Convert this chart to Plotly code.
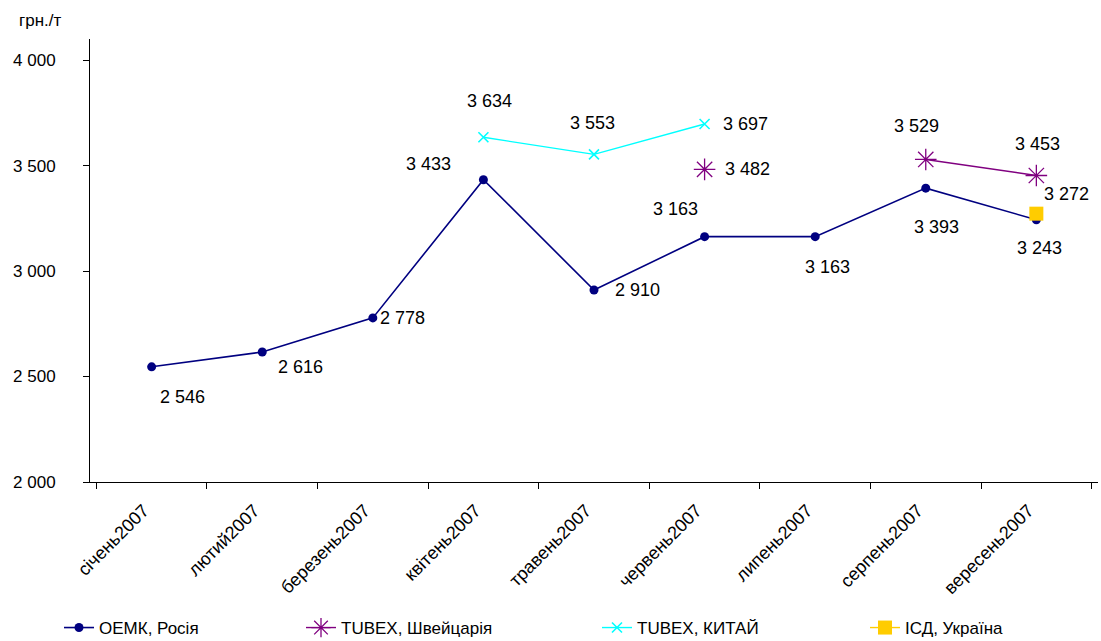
import plotly.graph_objects as go

categories = ["січень2007", "лютий2007", "березень2007", "квітень2007", "травень2007",
              "червень2007", "липень2007", "серпень2007", "вересень2007"]
oemk = [2546, 2616, 2778, 3433, 2910, 3163, 3163, 3393, 3243]
tubex_sw = [None, None, None, None, None, 3482, None, 3529, 3453]
tubex_cn = [None, None, None, 3634, 3553, 3697, None, None, None]
isd = [None, None, None, None, None, None, None, None, 3272]
y_ticks = [2000, 2500, 3000, 3500, 4000]

FONT = "Liberation Sans, Arial, sans-serif"

fig = go.Figure()
fig.add_trace(go.Scatter(x=categories, y=oemk, name="ОЕМК, Росія", mode="lines+markers",
                         line=dict(color="#000080", width=1.6),
                         marker=dict(symbol="circle", size=9, color="#000080"),
                         legend="legend", showlegend=True))
fig.add_trace(go.Scatter(x=categories, y=tubex_sw, name="TUBEX, Швейцарія", mode="lines+markers",
                         line=dict(color="#800080", width=1.4),
                         marker=dict(symbol="asterisk-open", size=18, color="#800080",
                                     line=dict(color="#800080", width=1.3)),
                         connectgaps=False, legend="legend2"))
fig.add_trace(go.Scatter(x=categories, y=tubex_cn, name="TUBEX, КИТАЙ", mode="lines+markers",
                         line=dict(color="#00FFFF", width=1.4),
                         marker=dict(symbol="x-thin-open", size=10, color="#00FFFF",
                                     line=dict(color="#00FFFF", width=1.6)),
                         connectgaps=False, legend="legend3"))
fig.add_trace(go.Scatter(x=categories, y=isd, name="ІСД, Україна", mode="lines+markers",
                         line=dict(color="#FFCC00", width=1.4),
                         marker=dict(symbol="square", size=14, color="#FFCC00"),
                         legend="legend4"))

# label pixel offsets (style): (dx, dy) per point
offs_oemk = [(31, -30), (38, -15), (30, 0), (-55, 16), (43, 0), (-29, 28), (12, -30), (11, -39), (3, -28)]
offs_sw = {5: (43, 0), 7: (-9, 33), 8: (1, 31)}
offs_cn = {3: (6, 36), 4: (-2, 31), 5: (41, 0)}
offs_isd = {8: (30, 20)}

def fmt(v):
    return f"{v:,}".replace(",", " ")

ann = []
def add_labels(vals, offs):
    for i, v in enumerate(vals):
        if v is None:
            continue
        dx, dy = offs[i]
        ann.append(dict(x=categories[i], y=v, xref="x", yref="y", text=fmt(v),
                        showarrow=False, xshift=dx, yshift=dy,
                        font=dict(family=FONT, size=18, color="black")))

add_labels(oemk, offs_oemk)
add_labels(tubex_sw, offs_sw)
add_labels(tubex_cn, offs_cn)
add_labels(isd, offs_isd)

ann.append(dict(x=(40 - 90) / 1008, y=(482 - 21) / 443, xref="paper", yref="paper", text="грн./т",
                showarrow=False, xanchor="center", yanchor="middle",
                font=dict(family=FONT, size=17, color="black")))

legend_common = dict(orientation="h", yanchor="middle", xanchor="left",
                     xref="container", yref="container", y=1 - 628 / 641,
                     font=dict(family=FONT, size=17, color="black"),
                     bgcolor="rgba(0,0,0,0)")

fig.update_layout(
    width=1101, height=641,
    margin=dict(l=90, r=3, t=39, b=159, autoexpand=False),
    paper_bgcolor="white", plot_bgcolor="white",
    separators=". ",
    showlegend=True,
    font=dict(family=FONT, size=16, color="black"),
    annotations=ann,
    legend=dict(x=59 / 1101, **legend_common),
    legend2=dict(x=301 / 1101, **legend_common),
    legend3=dict(x=597 / 1101, **legend_common),
    legend4=dict(x=865 / 1101, **legend_common),
    xaxis=dict(type="category", categoryorder="array", categoryarray=categories,
               showline=True, linecolor="black", linewidth=1,
               ticks="outside", tickson="boundaries", ticklen=6, tickcolor="black",
               tickangle=-45, showgrid=False, zeroline=False, automargin=False,
               ticklabelshift=-8, ticklabelstandoff=10,
               tickfont=dict(family=FONT, size=18, color="black")),
    yaxis=dict(range=[2000, 4100], tickvals=y_ticks, tickformat=",d",
               showline=True, linecolor="black", linewidth=1,
               ticks="outside", ticklen=6, tickcolor="black", automargin=False,
               showgrid=False, zeroline=False, ticklabelstandoff=24,
               tickfont=dict(family=FONT, size=17, color="black")),
)

fig.write_html("out.html")
